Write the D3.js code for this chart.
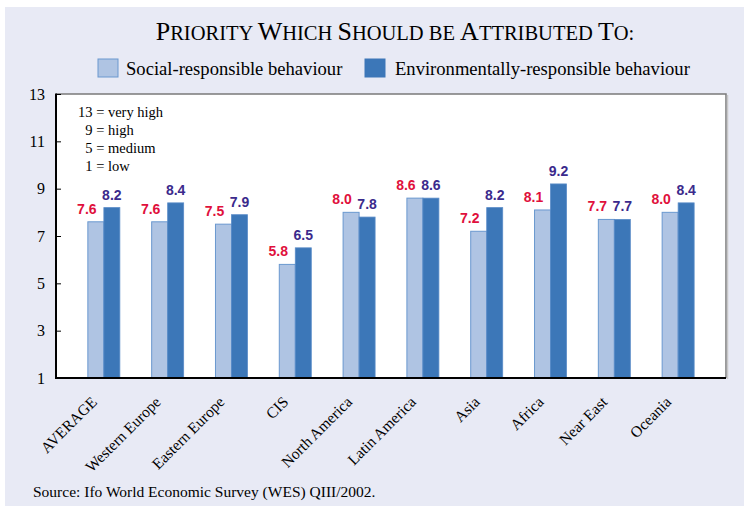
<!DOCTYPE html>
<html><head><meta charset="utf-8">
<script src="https://cdn.jsdelivr.net/npm/d3@7"></script>
<style>body{margin:0;background:#fff}svg{display:block}</style>
</head><body>
<script>
const categories = ["AVERAGE","Western Europe","Eastern Europe","CIS","North America","Latin America","Asia","Africa","Near East","Oceania"];
const socialValues = [7.6,7.6,7.5,5.8,8.0,8.6,7.2,8.1,7.7,8.0];
const envValues = [8.2,8.4,7.9,6.5,7.8,8.6,8.2,9.2,7.7,8.4];
const yTicks = [1,3,5,7,9,11,13];
const seriesNames = ["Social-responsible behaviour","Environmentally-responsible behaviour"];
const noteLines = ["13 = very high","  9 = high","  5 = medium","  1 = low"];
const titleParts = [["P","RIORITY "],["W","HICH "],["S","HOULD BE "],["A","TTRIBUTED "],["T","O:"]];
const sourceText = "Source: Ifo World Economic Survey (WES) QIII/2002.";

const W=744,H=506;
const svg=d3.select("body").append("svg").attr("width",W).attr("height",H);
svg.append("rect").attr("x",5).attr("y",7).attr("width",W-5).attr("height",H-7).attr("fill","#E8EAF5");

const serif="'Liberation Serif','Times New Roman',serif";
const sans="'Liberation Sans',Arial,sans-serif";
const L=56,R=726,T=94,B=378;
const x=d3.scalePoint().domain(categories).range([L,R]).padding(0.75);
const y=d3.scaleLinear().domain([1,13]).range([B,T]);
const bw=16;

svg.append("rect").attr("x",L).attr("y",T).attr("width",R-L).attr("height",B-T).attr("fill","#fff");
svg.append("path").attr("d",`M${L},${T}H${R}V${B}`).attr("fill","none").attr("stroke","#7a7a7a").attr("stroke-width",1.5);
svg.append("line").attr("x1",R+1.5).attr("x2",R+1.5).attr("y1",T+1).attr("y2",B+1).attr("stroke","#c8c8c8").attr("stroke-width",1.5);

// title (small caps built with tspans)
const tt=svg.append("text").attr("x",395).attr("y",40).attr("text-anchor","middle")
  .attr("font-family",serif).attr("fill","#000").attr("xml:space","preserve").style("white-space","pre");
titleParts.forEach(([a,b])=>{
  tt.append("tspan").attr("font-size",26).text(a);
  tt.append("tspan").attr("font-size",20.5).text(b);
});

// legend
const colors=["#AFC4E3","#3C77B8"], strokes=["#6A98CF","#3C77B8"];
const leg=[{x:98,tx:126},{x:365,tx:395}];
seriesNames.forEach((n,i)=>{
  svg.append("rect").attr("x",leg[i].x).attr("y",59).attr("width",20).attr("height",18)
    .attr("fill",colors[i]).attr("stroke",strokes[i]).attr("stroke-width",1);
  svg.append("text").attr("x",leg[i].tx).attr("y",75).attr("font-family",serif).attr("font-size",18.6).attr("fill","#000").text(n);
});

// bars
const g=svg.append("g");
categories.forEach((c,i)=>{
  const cx=x(c);
  g.append("rect").attr("x",cx-bw).attr("y",y(socialValues[i])).attr("width",bw).attr("height",y(1)-y(socialValues[i]))
    .attr("fill",colors[0]).attr("stroke","#6A98CF").attr("stroke-width",1);
  g.append("rect").attr("x",cx).attr("y",y(envValues[i])).attr("width",bw).attr("height",y(1)-y(envValues[i]))
    .attr("fill",colors[1]).attr("stroke","#5A8CC8").attr("stroke-width",0.8);
  g.append("text").attr("x",cx-bw-1).attr("y",y(socialValues[i])-8).attr("text-anchor","middle")
    .attr("font-family",sans).attr("font-weight","bold").attr("font-size",14).attr("fill","#E0103C").text(socialValues[i].toFixed(1));
  g.append("text").attr("x",cx+bw/2).attr("y",y(envValues[i])-8).attr("text-anchor","middle")
    .attr("font-family",sans).attr("font-weight","bold").attr("font-size",14).attr("fill","#3B2A8C").text(envValues[i].toFixed(1));
});

// y axis
const ya=svg.append("g").attr("transform",`translate(${L},0)`).call(d3.axisLeft(y).tickValues(yTicks).tickSize(-5).tickPadding(11));
ya.select(".domain").remove();
ya.selectAll("line").attr("stroke","#000");
ya.selectAll("text").attr("font-family",serif).attr("font-size",16).attr("fill","#000");
svg.append("line").attr("x1",L).attr("x2",L).attr("y1",T-0.5).attr("y2",B+1).attr("stroke","#000").attr("stroke-width",2);
svg.append("line").attr("x1",L-1).attr("x2",R).attr("y1",B).attr("y2",B).attr("stroke","#000").attr("stroke-width",2);

// x labels
categories.forEach(c=>{
  svg.append("text").attr("transform",`translate(${x(c)-6},${403}) rotate(-45)`).attr("text-anchor","end")
    .attr("font-family",serif).attr("font-size",15.5).attr("fill","#000").text(c);
});

// note
noteLines.forEach((t,i)=>{
  svg.append("text").attr("x",78).attr("y",117+i*18).attr("font-family",serif).attr("font-size",14.5)
    .attr("fill","#000").attr("xml:space","preserve").style("white-space","pre").text(t);
});

// source
svg.append("text").attr("x",33).attr("y",497).attr("font-family",serif).attr("font-size",15.5).attr("fill","#000").text(sourceText);
</script>
</body></html>
